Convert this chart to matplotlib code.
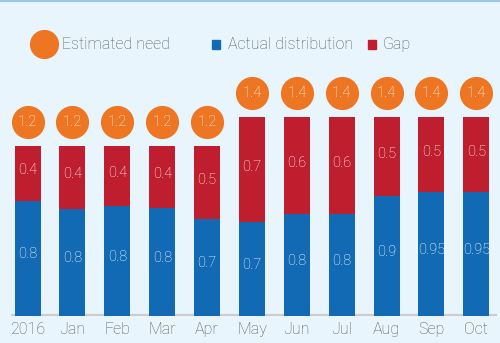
import numpy as np
from matplotlib import pyplot as plt

months = ['2016', 'Jan', 'Feb', 'Mar', 'Apr', 'May', 'Jun', 'Jul', 'Aug', 'Sep', 'Oct']
# bar heights as drawn in the source (millions)
actual = [0.81, 0.755, 0.775, 0.76, 0.68, 0.665, 0.72, 0.72, 0.845, 0.87, 0.87]
need = [1.2, 1.2, 1.2, 1.2, 1.2, 1.4, 1.4, 1.4, 1.4, 1.4, 1.4]
# printed labels
actual_labels = ['0.8', '0.8', '0.8', '0.8', '0.7', '0.7', '0.8', '0.8', '0.9', '0.95', '0.95']
gap_labels = ['0.4', '0.4', '0.4', '0.4', '0.5', '0.7', '0.6', '0.6', '0.5', '0.5', '0.5']
need_labels = ['1.2', '1.2', '1.2', '1.2', '1.2', '1.4', '1.4', '1.4', '1.4', '1.4', '1.4']

bg = '#e9f5fc'
blue = '#136ab4'
red = '#bf1e2e'
orange = '#ee7623'
grey = '#5a5a5a'

plt.rcParams['font.family'] = ['Roboto', 'DejaVu Sans']
plt.rcParams['font.weight'] = 'light'

fig = plt.figure(figsize=(5, 3.43), dpi=100, facecolor=bg)
ax = fig.add_axes([0.022, 0.0787, 0.972, 0.863])
ax.set_facecolor(bg)

xs = np.arange(len(months))
actual = np.array(actual)
need = np.array(need)
gap = need - actual

ax.bar(xs, actual, width=0.58, color=blue, zorder=2)
ax.bar(xs, gap, bottom=actual, width=0.58, color=red, zorder=2)
ax.scatter(xs, need + 0.17, s=570, color=orange, zorder=3, linewidths=0)

for x, a, g, n, al, gl, nl in zip(xs, actual, gap, need, actual_labels, gap_labels, need_labels):
    ax.text(x, a / 2 + 0.03, al, color='white', ha='center', va='center', fontsize=10.5, zorder=4)
    ax.text(x, a + g / 2 + 0.02, gl, color='white', ha='center', va='center', fontsize=10.5, zorder=4)
    ax.text(x, n + 0.17, nl, color='white', ha='center', va='center', fontsize=10.5, zorder=4)

ax.set_xlim(-0.37, 10.46)
ax.set_ylim(0, 2.085)
ax.axhline(0, color='#cccccc', lw=3, zorder=1)
for s in ax.spines.values():
    s.set_visible(False)
ax.set_yticks([])
ax.set_xticks(xs)
ax.set_xticklabels(months, fontsize=11.5, color=grey)
ax.tick_params(axis='x', length=0, pad=4)

# legend drawn by hand
fig.add_artist(plt.Line2D([0.088], [0.872], marker='o', markersize=21, color=orange,
                          markeredgewidth=0, transform=fig.transFigure))
fig.text(0.124, 0.870, 'Estimated need', fontsize=11.5, color=grey, va='center')
fig.add_artist(plt.Rectangle((0.424, 0.858), 0.015, 0.024, color=blue, transform=fig.transFigure))
fig.text(0.456, 0.870, 'Actual distribution', fontsize=11.5, color=grey, va='center')
fig.add_artist(plt.Rectangle((0.736, 0.858), 0.015, 0.024, color=red, transform=fig.transFigure))
fig.text(0.766, 0.870, 'Gap', fontsize=11.5, color=grey, va='center')
fig.add_artist(plt.Line2D([0, 1], [0.998, 0.998], color='#9cc8e4', lw=1.5, transform=fig.transFigure))

plt.savefig('out.png', dpi=100, facecolor=bg)
